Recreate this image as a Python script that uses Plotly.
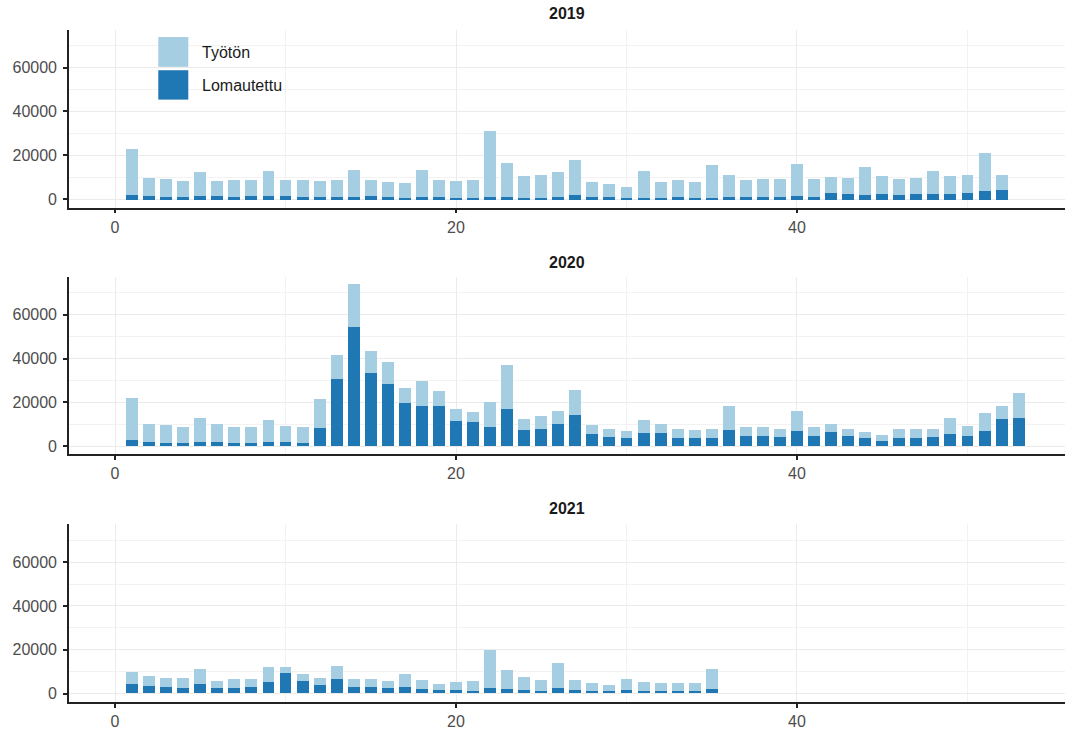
import plotly.graph_objects as go

years = ["2019", "2020", "2021"]

weeks_2019 = list(range(1, 53))
lomautettu_2019 = [2000, 1650, 1350, 1350, 1800, 1500, 1200, 1650, 1800, 1650,
                   1350, 1350, 1350, 1350, 1500, 1350, 900, 1350, 1050, 900,
                   900, 1050, 1350, 900, 900, 1350, 2100, 1350, 1200, 900,
                   900, 900, 1050, 900, 900, 1350, 1200, 1200, 1200, 1800,
                   1350, 3100, 2700, 2200, 2700, 2200, 2500, 2300, 2700, 3100,
                   3900, 4500]
tyoton_2019 = [21000, 8250, 8150, 7050, 10800, 7100, 7500, 7350, 11100, 7050,
               7350, 7250, 7650, 12150, 7500, 6750, 6600, 11950, 7950, 7700,
               8100, 30350, 15350, 9800, 10500, 11250, 16100, 6450, 5900, 5000,
               11900, 7000, 7850, 7000, 14900, 10050, 7800, 8000, 8000, 14600,
               7850, 7300, 7100, 12700, 8000, 7300, 7400, 10900, 7800, 8300,
               17100, 6700]

weeks_2020 = list(range(1, 54))
lomautettu_2020 = [2700, 2000, 1400, 1400, 2000, 2000, 1400, 1500, 2000, 1700,
                   1400, 8300, 30500, 54500, 33200, 28500, 19800, 18500, 18200, 11500,
                   10900, 8600, 16800, 7300, 8000, 10300, 14200, 5500, 4200, 3900,
                   6100, 5800, 3800, 3500, 3800, 7400, 4700, 4700, 4200, 7000,
                   4500, 6200, 4500, 3500, 2100, 3600, 3800, 4100, 5600, 4700,
                   7000, 12300, 12900]
tyoton_2020 = [19300, 8000, 8100, 7100, 10600, 8000, 7200, 7300, 10000, 7400,
               7400, 13400, 11300, 19400, 10300, 9700, 6900, 11300, 6800, 5500,
               4600, 11400, 20000, 5000, 5800, 5500, 11400, 4000, 3400, 3100,
               5900, 4400, 4100, 3900, 4200, 10800, 4100, 4200, 3800, 9200,
               4400, 4100, 3500, 3000, 2900, 4100, 3900, 3900, 7000, 4500,
               8200, 6000, 11500]

weeks_2021 = list(range(1, 36))
lomautettu_2021 = [4100, 3300, 2900, 2400, 4400, 2300, 2600, 2700, 5300, 9100,
                   5400, 3600, 6500, 3000, 3000, 2300, 3000, 1800, 1400, 1400,
                   1100, 2300, 1800, 1400, 1100, 2400, 1700, 1200, 1100, 1700,
                   1200, 1100, 1200, 1100, 1800]
tyoton_2021 = [5700, 4600, 4100, 4400, 6600, 3300, 4100, 4000, 6800, 3100,
               3400, 3200, 6000, 3400, 3500, 3100, 5600, 4200, 3000, 3700,
               4600, 17500, 8600, 6000, 5100, 11200, 4500, 3600, 2800, 4700,
               4100, 3600, 3600, 3400, 9200]

y_tickvals = [0, 20000, 40000, 60000]
y_ticktext = ["0", "20000", "40000", "60000"]
x_tickvals = [0, 20, 40]
x_ticktext = ["0", "20", "40"]

colors = {"Lomautettu": "#1f78b4", "Työtön": "#a6cee3"}

data = [
    (weeks_2019, lomautettu_2019, tyoton_2019),
    (weeks_2020, lomautettu_2020, tyoton_2020),
    (weeks_2021, lomautettu_2021, tyoton_2021),
]

W, H = 1065, 730
ML = 69
domains = [(30, 209), (279, 457.5), (528, 706.7)]
title_y = [14, 264, 512]

fig = go.Figure()
for i, (wk, lom, tyo) in enumerate(data):
    sfx = "" if i == 0 else str(i + 1)
    for name, vals in (("Lomautettu", lom), ("Työtön", tyo)):
        fig.add_trace(go.Bar(
            x=wk, y=vals, name=name, width=0.7,
            marker=dict(color=colors[name], line=dict(width=0)),
            xaxis="x" + sfx, yaxis="y" + sfx, showlegend=False,
            hovertemplate="viikko %{x}: %{y}<extra>" + name + "</extra>",
        ))

FONT = "Liberation Sans, Arial, sans-serif"
layout = dict(
    width=W, height=H, barmode="stack", bargap=0,
    margin=dict(l=ML, r=0, t=0, b=0),
    paper_bgcolor="white", plot_bgcolor="white",
    font=dict(family=FONT, size=16, color="#4d4d4d"),
    shapes=[], annotations=[],
)

for i in range(3):
    sfx = "" if i == 0 else str(i + 1)
    top, bot = domains[i]
    dom = [1 - bot / H, 1 - top / H]
    layout["xaxis" + sfx] = dict(
        domain=[0, 1], range=[-2.70, 55.72], anchor="y" + sfx,
        tickvals=x_tickvals, ticktext=x_ticktext,
        showgrid=True, gridcolor="#ebebeb", gridwidth=1,
        minor=dict(tickvals=[10, 30, 50], showgrid=True, gridcolor="#f2f2f2", gridwidth=1),
        showline=True, linecolor="#222222", linewidth=1.6,
        ticks="outside", ticklen=4, tickcolor="#222222", tickwidth=1.5,
        tickfont=dict(size=16, color="#4d4d4d"),
        zeroline=False, fixedrange=True,
    )
    layout["yaxis" + sfx] = dict(
        domain=dom, range=[-3750, 77200], anchor="x" + sfx,
        tickvals=y_tickvals, ticktext=y_ticktext,
        showgrid=True, gridcolor="#ebebeb", gridwidth=1,
        minor=dict(tickvals=[10000, 30000, 50000, 70000], showgrid=True,
                   gridcolor="#f2f2f2", gridwidth=1),
        showline=True, linecolor="#222222", linewidth=1.6,
        ticks="outside", ticklen=4, tickcolor="#222222", tickwidth=1.5,
        tickfont=dict(size=16, color="#4d4d4d"), ticklabelstandoff=3,
        zeroline=False, fixedrange=True,
    )
    layout["annotations"].append(dict(
        text="<b>" + years[i] + "</b>", xref="paper", yref="paper",
        x=0.5, y=1 - title_y[i] / H, xanchor="center", yanchor="middle",
        showarrow=False, font=dict(size=16, color="#1a1a1a", family=FONT),
    ))

# legend drawn inside the first panel
def px_x(p):
    return (p - ML) / (W - ML)

def px_y(p):
    return 1 - p / H

legend_items = [("Työtön", 37.3, 67.3, 53), ("Lomautettu", 70.7, 100.3, 86)]
for name, y0, y1, ty in legend_items:
    layout["shapes"].append(dict(
        type="rect", xref="paper", yref="paper",
        x0=px_x(158.3), x1=px_x(188.3), y0=px_y(y1), y1=px_y(y0),
        fillcolor=colors[name], line=dict(width=0), layer="above",
    ))
    layout["annotations"].append(dict(
        text=name, xref="paper", yref="paper", x=px_x(200), y=px_y(ty),
        xanchor="left", yanchor="middle", showarrow=False,
        font=dict(size=16, color="#1a1a1a", family=FONT),
    ))

fig.update_layout(**layout)
fig.write_html("out.html", config=dict(displayModeBar=False))
